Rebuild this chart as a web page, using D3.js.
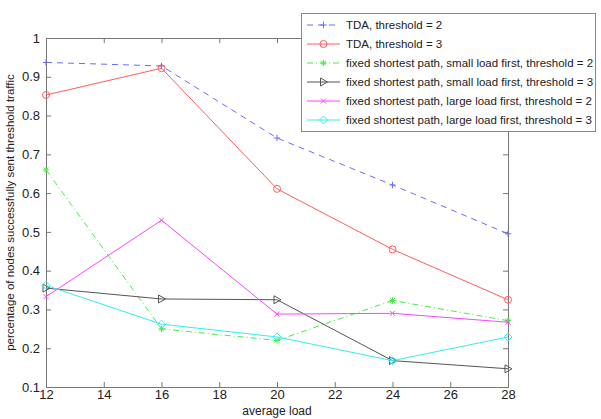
<!DOCTYPE html>
<html>
<head>
<meta charset="utf-8">
<script src="https://cdn.jsdelivr.net/npm/d3@7"></script>
<style>
  body { margin: 0; background: #fff; }
  text { font-family: "Liberation Sans", Arial, sans-serif; fill: #222; }
</style>
</head>
<body>
<svg id="chart" width="601" height="419"></svg>
<script>
var svg = d3.select("svg#chart"),
    width = +svg.attr("width"),
    height = +svg.attr("height");

var loads = [12, 16, 20, 24, 28];
var xTicks = [12, 14, 16, 18, 20, 22, 24, 26, 28];
var yTicks = [0.1, 0.2, 0.3, 0.4, 0.5, 0.6, 0.7, 0.8, 0.9, 1];

var tdaThr2 = [0.937, 0.928, 0.742, 0.621, 0.495];
var tdaThr3 = [0.853, 0.922, 0.611, 0.455, 0.325];
var smallThr2 = [0.660, 0.250, 0.220, 0.323, 0.271];
var smallThr3 = [0.355, 0.327, 0.325, 0.168, 0.147];
var largeThr2 = [0.333, 0.530, 0.288, 0.290, 0.267];
var largeThr3 = [0.362, 0.262, 0.229, 0.168, 0.229];

var seriesNames = [
    "TDA, threshold = 2",
    "TDA, threshold = 3",
    "fixed shortest path, small load first, threshold = 2",
    "fixed shortest path, small load first, threshold = 3",
    "fixed shortest path, large load first, threshold = 2",
    "fixed shortest path, large load first, threshold = 3"
];

var series = [
    { name: seriesNames[0], values: tdaThr2, color: "#6b6bff", dash: "6,5", marker: "plus" },
    { name: seriesNames[1], values: tdaThr3, color: "#ff5c5c", dash: null, marker: "circle" },
    { name: seriesNames[2], values: smallThr2, color: "#44ee44", dash: "6,3,1,3", marker: "star" },
    { name: seriesNames[3], values: smallThr3, color: "#555555", dash: null, marker: "triangle" },
    { name: seriesNames[4], values: largeThr2, color: "#ff44ff", dash: null, marker: "cross" },
    { name: seriesNames[5], values: largeThr3, color: "#33eeee", dash: null, marker: "diamond" }
];

var margin = { left: 46, right: 93, top: 38, bottom: 32 };

var x = d3.scaleLinear()
    .domain([12, 28])
    .range([margin.left, width - margin.right]);

var y = d3.scaleLinear()
    .domain([0.1, 1])
    .range([height - margin.bottom, margin.top]);

var axisColor = "#777";

// axes: ticks point into the plot, mirrored on top and right
var xAxis = svg.append("g")
    .attr("transform", "translate(0," + y(0.1) + ")")
    .call(d3.axisBottom(x).tickValues(xTicks).tickSize(-5).tickPadding(3)
        .tickFormat(d3.format("d")));

var yAxis = svg.append("g")
    .attr("transform", "translate(" + x(12) + ",0)")
    .call(d3.axisLeft(y).tickValues(yTicks).tickSize(-5).tickPadding(6)
        .tickFormat(function(d) { return d === 1 ? "1" : d3.format(".1f")(d); }));

var xTop = svg.append("g")
    .attr("transform", "translate(0," + y(1) + ")")
    .call(d3.axisTop(x).tickValues(xTicks).tickSize(-5).tickFormat(""));

var yRight = svg.append("g")
    .attr("transform", "translate(" + x(28) + ",0)")
    .call(d3.axisRight(y).tickValues(yTicks).tickSize(-5).tickFormat(""));

[xAxis, yAxis, xTop, yRight].forEach(function(g) {
    g.selectAll("path, line").attr("stroke", axisColor);
    g.selectAll("text").attr("font-size", 13).style("fill", "#222")
        .attr("font-family", "Liberation Sans, Arial, sans-serif");
});

svg.append("text")
    .attr("x", (x(12) + x(28)) / 2)
    .attr("y", 415)
    .attr("text-anchor", "middle")
    .attr("font-size", 12)
    .text("average load");

svg.append("text")
    .attr("transform", "translate(14," + ((y(0.1) + y(1)) / 2) + ") rotate(-90)")
    .attr("text-anchor", "middle")
    .attr("font-size", 11.5)
    .text("percentage of nodes successfully sent threshold traffic");

// marker shapes
function drawMarker(g, type, cx, cy, color) {
    var s = 3.2;
    if (type === "plus") {
        g.append("path").attr("d", "M" + (cx - s) + "," + cy + "H" + (cx + s) + "M" + cx + "," + (cy - s) + "V" + (cy + s))
            .attr("stroke", color).attr("fill", "none");
    } else if (type === "circle") {
        g.append("circle").attr("cx", cx).attr("cy", cy).attr("r", 3.5)
            .attr("stroke", color).attr("fill", "none");
    } else if (type === "star") {
        g.append("path").attr("d",
            "M" + (cx - s) + "," + cy + "H" + (cx + s) + "M" + cx + "," + (cy - s) + "V" + (cy + s) +
            "M" + (cx - 2.3) + "," + (cy - 2.3) + "L" + (cx + 2.3) + "," + (cy + 2.3) +
            "M" + (cx - 2.3) + "," + (cy + 2.3) + "L" + (cx + 2.3) + "," + (cy - 2.3))
            .attr("stroke", color).attr("fill", "none");
    } else if (type === "triangle") {
        g.append("path").attr("d", "M" + (cx - 3) + "," + (cy - 4) + "L" + (cx + 4) + "," + cy + "L" + (cx - 3) + "," + (cy + 4) + "Z")
            .attr("stroke", color).attr("fill", "none");
    } else if (type === "cross") {
        g.append("path").attr("d",
            "M" + (cx - 2.5) + "," + (cy - 2.5) + "L" + (cx + 2.5) + "," + (cy + 2.5) +
            "M" + (cx - 2.5) + "," + (cy + 2.5) + "L" + (cx + 2.5) + "," + (cy - 2.5))
            .attr("stroke", color).attr("fill", "none");
    } else if (type === "diamond") {
        g.append("path").attr("d", "M" + cx + "," + (cy - 4) + "L" + (cx + 4) + "," + cy + "L" + cx + "," + (cy + 4) + "L" + (cx - 4) + "," + cy + "Z")
            .attr("stroke", color).attr("fill", "none");
    }
}

var line = d3.line()
    .x(function(d, i) { return x(loads[i]); })
    .y(function(d) { return y(d); });

var plot = svg.append("g");

series.forEach(function(s) {
    var g = plot.append("g");
    g.append("path")
        .datum(s.values)
        .attr("d", line)
        .attr("fill", "none")
        .attr("stroke", s.color)
        .attr("stroke-width", 1)
        .attr("stroke-dasharray", s.dash);
    s.values.forEach(function(v, i) {
        drawMarker(g, s.marker, x(loads[i]), y(v), s.color);
    });
});

// legend
var legend = svg.append("g").attr("transform", "translate(301,13)");

legend.append("rect")
    .attr("x", 0.5).attr("y", 0.5)
    .attr("width", 294).attr("height", 118)
    .attr("fill", "#fff")
    .attr("stroke", "#888");

series.forEach(function(s, i) {
    var ly = 12 + i * 19;
    legend.append("line")
        .attr("x1", 6).attr("x2", 39)
        .attr("y1", ly).attr("y2", ly)
        .attr("stroke", s.color)
        .attr("stroke-dasharray", s.dash);
    drawMarker(legend, s.marker, 22.5, ly, s.color);
    legend.append("text")
        .attr("x", 45)
        .attr("y", ly + 4)
        .attr("font-size", 11.5)
        .text(s.name);
});
</script>
</body>
</html>
